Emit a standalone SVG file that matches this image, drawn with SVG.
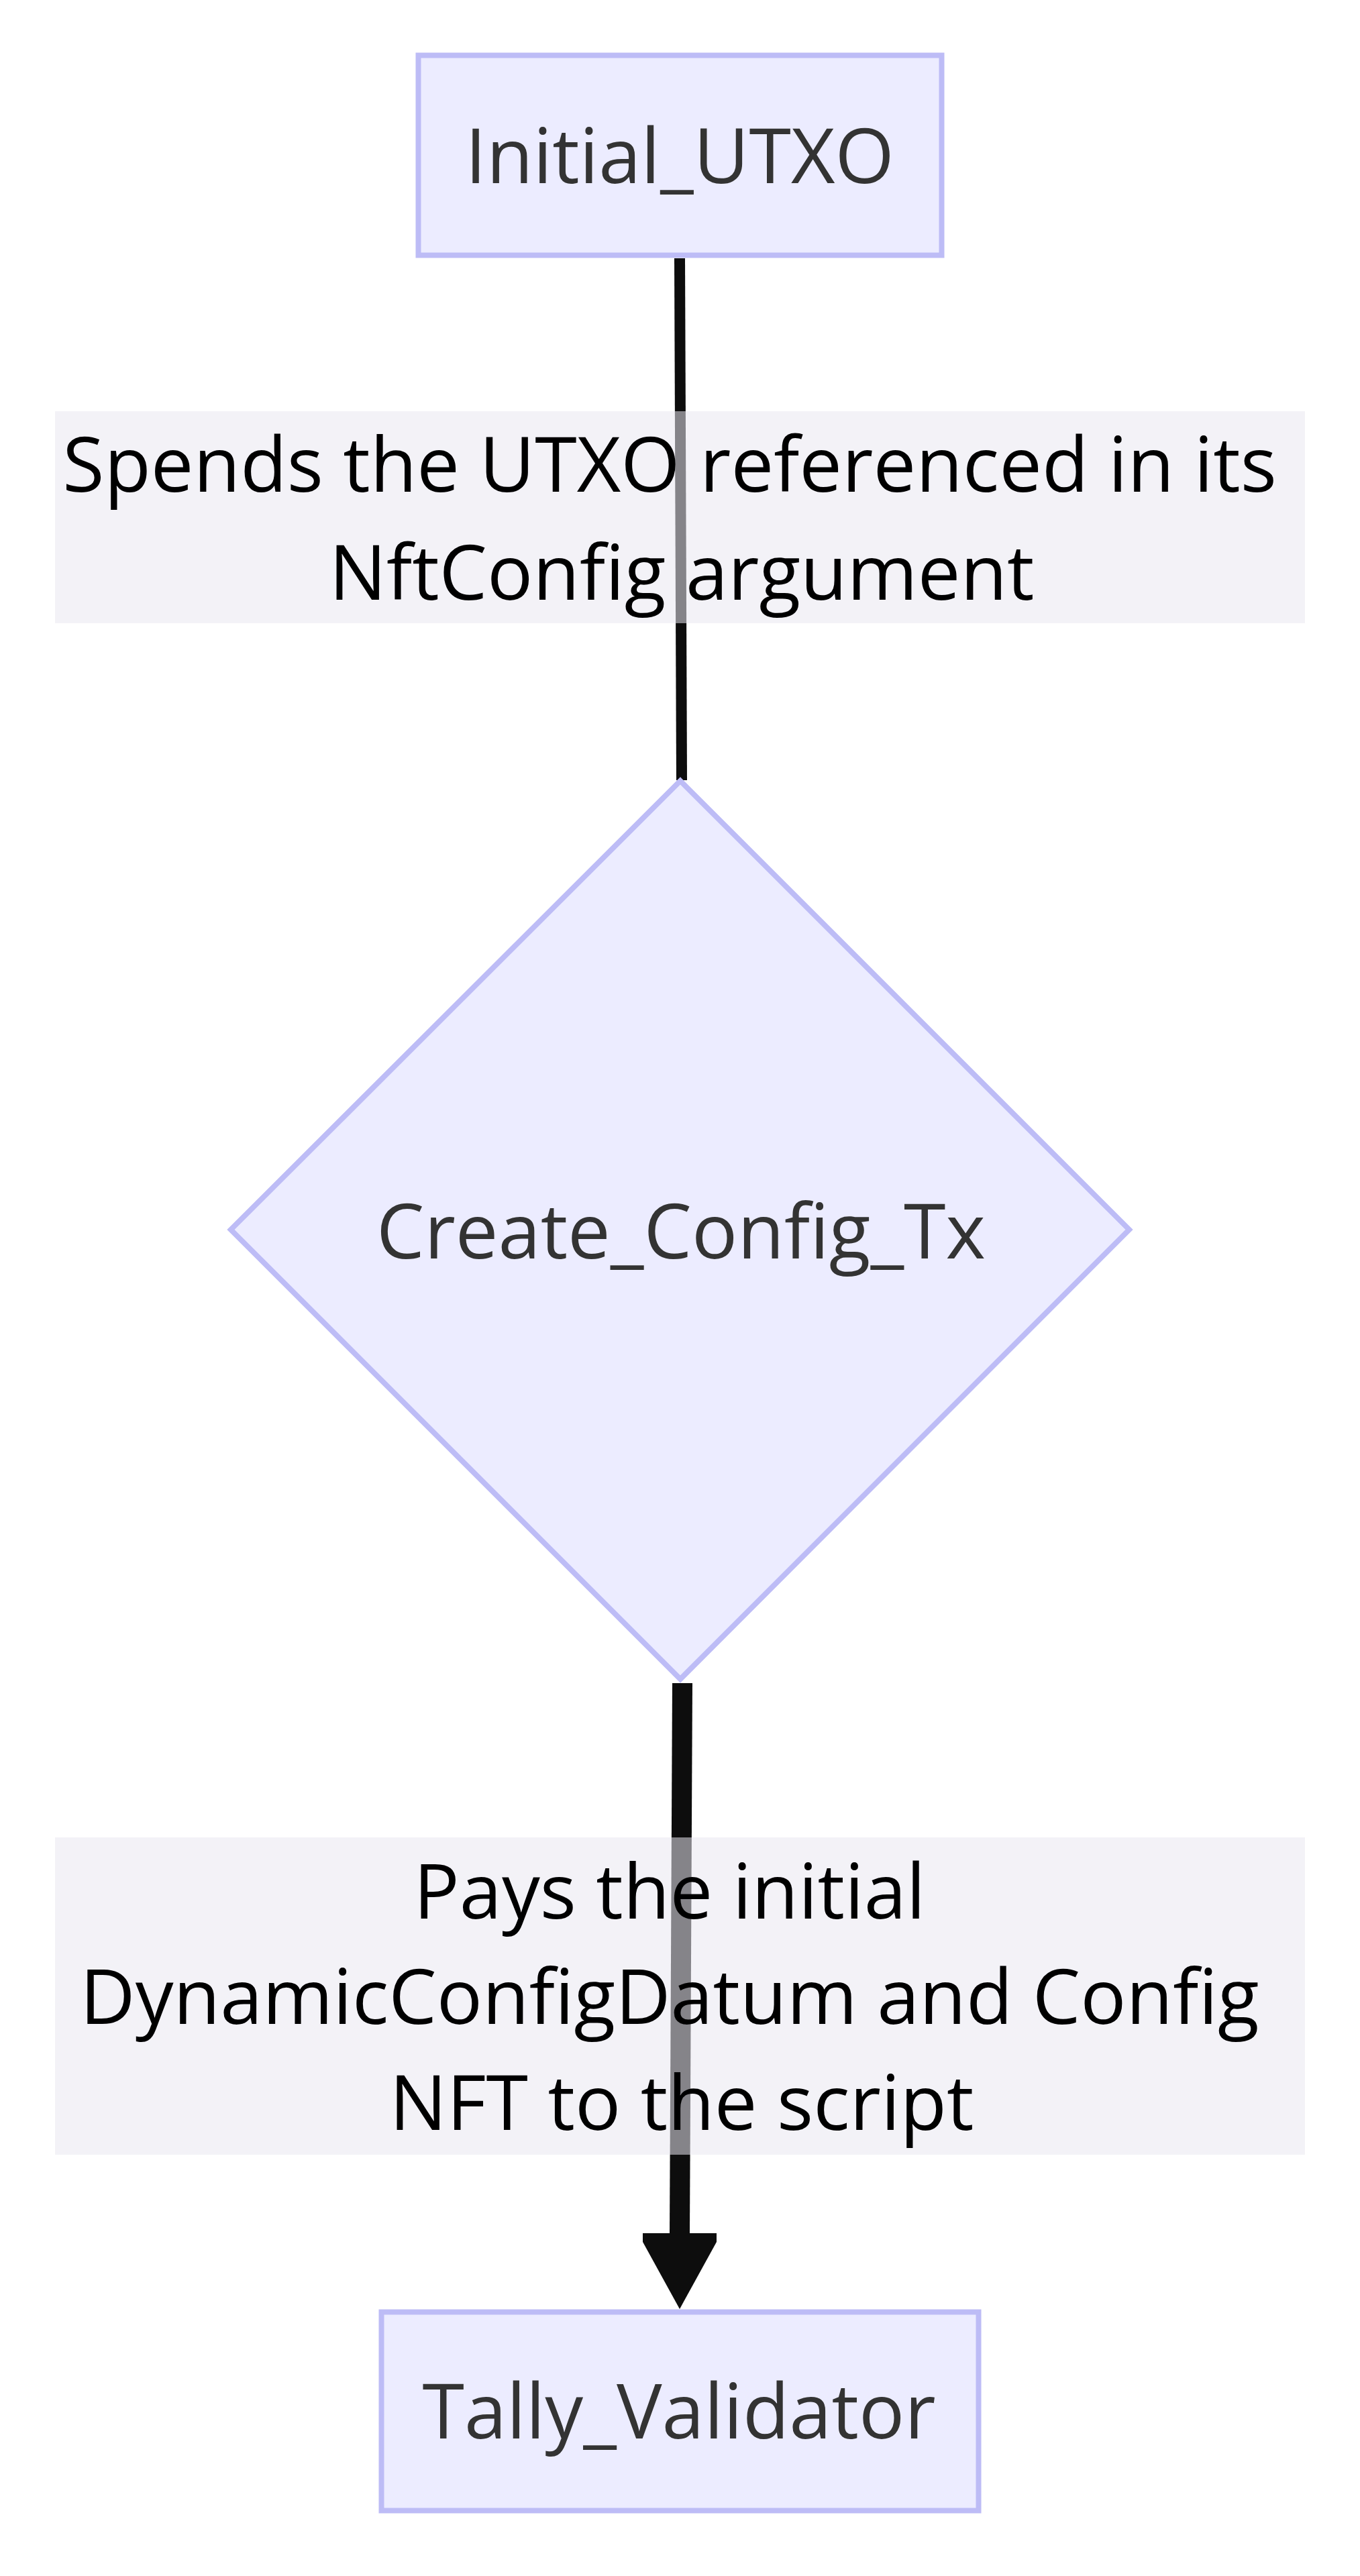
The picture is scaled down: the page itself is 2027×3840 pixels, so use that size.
<svg xmlns="http://www.w3.org/2000/svg" width="2027" height="3840" viewBox="0 0 2027 3840">
<style>
.node{fill:#ECECFF;stroke:#BDBCF6;stroke-width:8}
.ntext{font-family:"Open Sans","Noto Sans",sans-serif;font-size:113.5px;fill:#333333;text-anchor:middle}
.edge{stroke:#0d0d0d;fill:none}
.lbg{fill:rgb(233,232,240);fill-opacity:0.55}
.ltext{font-family:"Open Sans","Noto Sans",sans-serif;font-size:113.5px;fill:#000000;text-anchor:middle}
</style>
<rect width="2027" height="3840" fill="#ffffff"/>
<g id="connectors">
<line class="edge" x1="1013" y1="385" x2="1016" y2="1163" stroke-width="16"/>
<line class="edge" x1="1017" y1="2509" x2="1013" y2="3332" stroke-width="30"/>
<polygon points="958,3329 1068,3329 1068,3342 1013,3442 958,3342" fill="#0d0d0d"/>
</g>
<g id="node-Initial_UTXO">
<rect class="node" x="623.5" y="82.5" width="780" height="298"/>
<text class="ntext" x="1013" y="273">Initial_UTXO</text>
</g>
<g id="node-Create_Config_Tx">
<polygon class="node" points="1014,1164 1683,1833 1014,2503 344,1833" stroke-width="7"/>
<text class="ntext" x="1015" y="1876">Create_Config_Tx</text>
</g>
<g id="node-Tally_Validator">
<rect class="node" x="568.5" y="3446.5" width="890" height="296"/>
<text class="ntext" x="1012" y="3635">Tally_Validator</text>
</g>
<g id="label-1">
<rect class="lbg" x="82" y="613" width="1863" height="316"/>
<text class="ltext" x="998" y="733">Spends the UTXO referenced in its</text>
<text class="ltext" x="1016" y="894">NftConfig argument</text>
</g>
<g id="label-2">
<rect class="lbg" x="82" y="2739" width="1863" height="473"/>
<text class="ltext" x="998" y="2860">Pays the initial</text>
<text class="ltext" x="998" y="3017">DynamicConfigDatum and Config</text>
<text class="ltext" x="1016" y="3175">NFT to the script</text>
</g>
</svg>
